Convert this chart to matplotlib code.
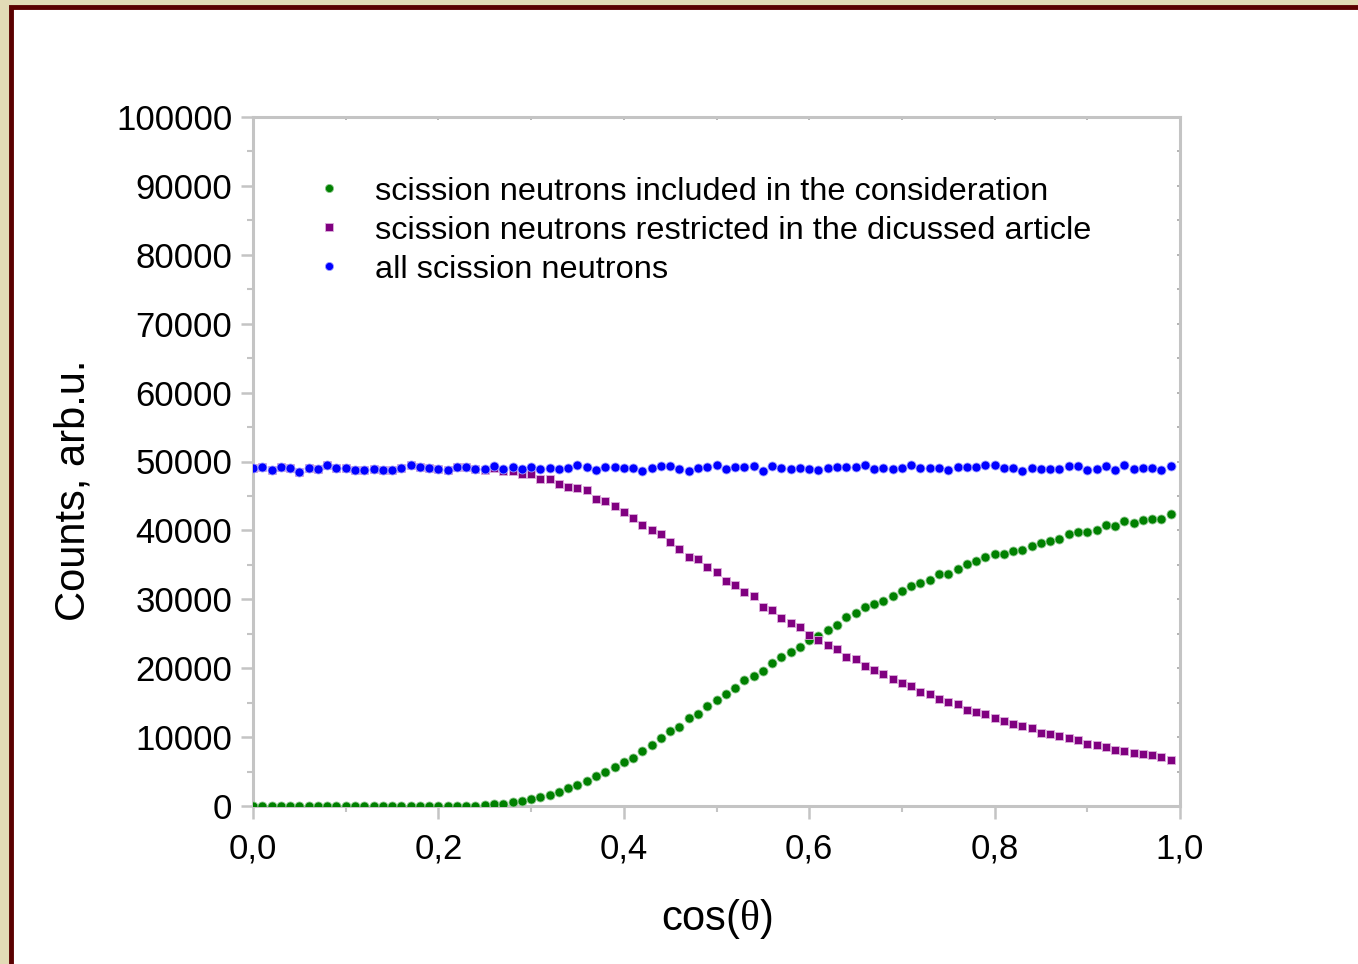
import numpy as np
import matplotlib.pyplot as plt
from matplotlib.patches import Rectangle
from matplotlib.ticker import MultipleLocator, FuncFormatter

plt.rcParams['font.family'] = ['Liberation Sans', 'DejaVu Sans']
plt.rcParams['mathtext.fontset'] = 'custom'
plt.rcParams['mathtext.rm'] = 'Liberation Serif'

# cos(theta) from 0.00 to 0.99 in steps of 0.01
cos_theta = np.arange(100) / 100

# all scission neutrons (nearly flat)
all_neutrons = [
    48990, 49130, 48740, 49130, 49080, 48500, 48990, 48940, 49420, 49080,
    48990, 48740, 48790, 48840, 48740, 48790, 49030, 49470, 49230, 49030,
    48840, 48790, 49180, 49130, 48890, 48940, 49280, 48840, 49180, 48890,
    49130, 48940, 49080, 48840, 49030, 49420, 49130, 48740, 49180, 49180,
    49080, 48990, 48690, 49030, 49320, 49320, 48840, 48690, 49080, 49230,
    49520, 48940, 49130, 49230, 49370, 48550, 49280, 48990, 48940, 49080,
    48890, 48790, 49030, 49130, 49130, 49180, 49420, 48890, 49080, 48940,
    49080, 49420, 48990, 49030, 49030, 48740, 49130, 49130, 49130, 49420,
    49520, 48990, 49030, 48650, 49080, 48890, 48840, 48890, 49370, 49370,
    48740, 48940, 49320, 48790, 49420, 48890, 49030, 49030, 48740, 49280,
]

# scission neutrons included in the consideration
included = [
    0, 0, 0, 0, 0, 0, 0, 0, 0, 0,
    0, 0, 0, 0, 0, 0, 0, 0, 0, 0,
    0, 0, 0, 0, 0, 150, 240, 340, 530, 780,
    970, 1310, 1600, 2090, 2570, 3060, 3560, 4320, 4950, 5630,
    6350, 7030, 8000, 8920, 9800, 10860, 11490, 12710, 13290, 14450,
    15370, 16200, 17070, 18240, 18920, 19640, 20710, 21580, 22410, 23090,
    24060, 24740, 25610, 26290, 27500, 27940, 28860, 29290, 29780, 30510,
    31190, 31960, 32300, 32830, 33610, 33660, 34390, 35160, 35500, 36080,
    36620, 36570, 37010, 37200, 37780, 38220, 38410, 38800, 39480, 39720,
    39770, 40060, 40790, 40590, 41320, 41130, 41470, 41710, 41710, 42440,
]

# scission neutrons restricted in the discussed article
restricted = [
    48990, 49130, 48740, 49130, 49080, 48500, 48990, 48940, 49420, 49080,
    48990, 48740, 48790, 48840, 48740, 48790, 49030, 49470, 49230, 49030,
    48840, 48790, 49180, 49130, 48890, 48790, 49040, 48650, 48650, 48160,
    48160, 47530, 47430, 46710, 46320, 46220, 45830, 44520, 44230, 43500,
    42680, 41860, 40740, 40060, 39430, 38360, 37350, 36080, 35790, 34730,
    34000, 32690, 32060, 30990, 30410, 28950, 28470, 27310, 26630, 25950,
    24830, 24100, 23430, 22840, 21630, 21290, 20370, 19690, 19210, 18480,
    17900, 17460, 16590, 16200, 15570, 15130, 14790, 13970, 13630, 13290,
    12800, 12370, 11880, 11540, 11250, 10620, 10380, 10090, 9890, 9560,
    8970, 8920, 8540, 8150, 7950, 7760, 7570, 7420, 7080, 6740,
]

labels = [
    'scission neutrons included in the consideration',
    'scission neutrons restricted in the dicussed article',
    'all scission neutrons',
]

fig = plt.figure(figsize=(13.58, 9.64), dpi=100)
fig.patch.set_facecolor('#e2dbb6')

# white slide panel with dark red edge, kept behind the axes
panel = Rectangle((10.5 / 1358, -0.01), 1.0, 1 - 7 / 964 + 0.01,
                  transform=fig.transFigure, facecolor='white',
                  edgecolor='#5a0000', linewidth=3.5, zorder=-10)
fig.patches.append(panel)

ax = fig.add_axes([253 / 1358, 1 - 806 / 964, 927 / 1358, 689 / 964])
ax.set_facecolor('white')

ax.plot(cos_theta, included, 'o', color='#008000', ms=6.5, mec='#8fc78f',
        mew=0.6, label=labels[0], zorder=3)
ax.plot(cos_theta, restricted, 's', color='#800080', ms=5.8, mec='#dcb0dc',
        mew=0.6, label=labels[1], zorder=4)
ax.plot(cos_theta, all_neutrons, 'o', color='#0000ff', ms=6.5, mec='#a0a0ff',
        mew=0.6, label=labels[2], zorder=5)

ax.set_xlim(0, 1.0)
ax.set_ylim(0, 100000)
ax.xaxis.set_major_locator(MultipleLocator(0.2))
ax.xaxis.set_minor_locator(MultipleLocator(0.1))
ax.yaxis.set_major_locator(MultipleLocator(10000))
ax.yaxis.set_minor_locator(MultipleLocator(5000))
ax.xaxis.set_major_formatter(FuncFormatter(lambda v, p: f'{v:.1f}'.replace('.', ',')))
ax.yaxis.set_major_formatter(FuncFormatter(lambda v, p: f'{v:.0f}'))

for s in ax.spines.values():
    s.set_color('#c4c4c4')
    s.set_linewidth(2.2)

ax.tick_params(which='major', direction='out', length=9, width=1.8,
               color='#c4c4c4', labelsize=25, pad=6, labelcolor='black')
ax.tick_params(which='minor', direction='out', length=4.5, width=1.5,
               color='#c4c4c4')
ax.tick_params(axis='x', which='major', pad=10)

# tiny ticks on the top and right frame
ax2 = ax.secondary_xaxis('top')
ax2.xaxis.set_major_locator(MultipleLocator(0.1))
ax2.tick_params(direction='in', length=2, width=1.2, color='#a8a8a8',
                labeltop=False)
ax2.spines['top'].set_visible(False)
ax3 = ax.secondary_yaxis('right')
ax3.yaxis.set_major_locator(MultipleLocator(5000))
ax3.tick_params(direction='in', length=2, width=1.2, color='#a8a8a8',
                labelright=False)
ax3.spines['right'].set_visible(False)

ax.set_xlabel('cos(' + r'$\mathrm{\theta}$' + ')', fontsize=30, labelpad=23)
ax.set_ylabel('Counts, arb.u.', fontsize=30)
ax.yaxis.set_label_coords(-0.172, 0.4586)

ax.legend(loc='upper left', bbox_to_anchor=(0.033, 0.956), frameon=False,
          fontsize=23.4, handletextpad=0.92, labelspacing=0.28,
          markerscale=0.9, handlelength=1.0)

fig.savefig('out.png', dpi=100)
